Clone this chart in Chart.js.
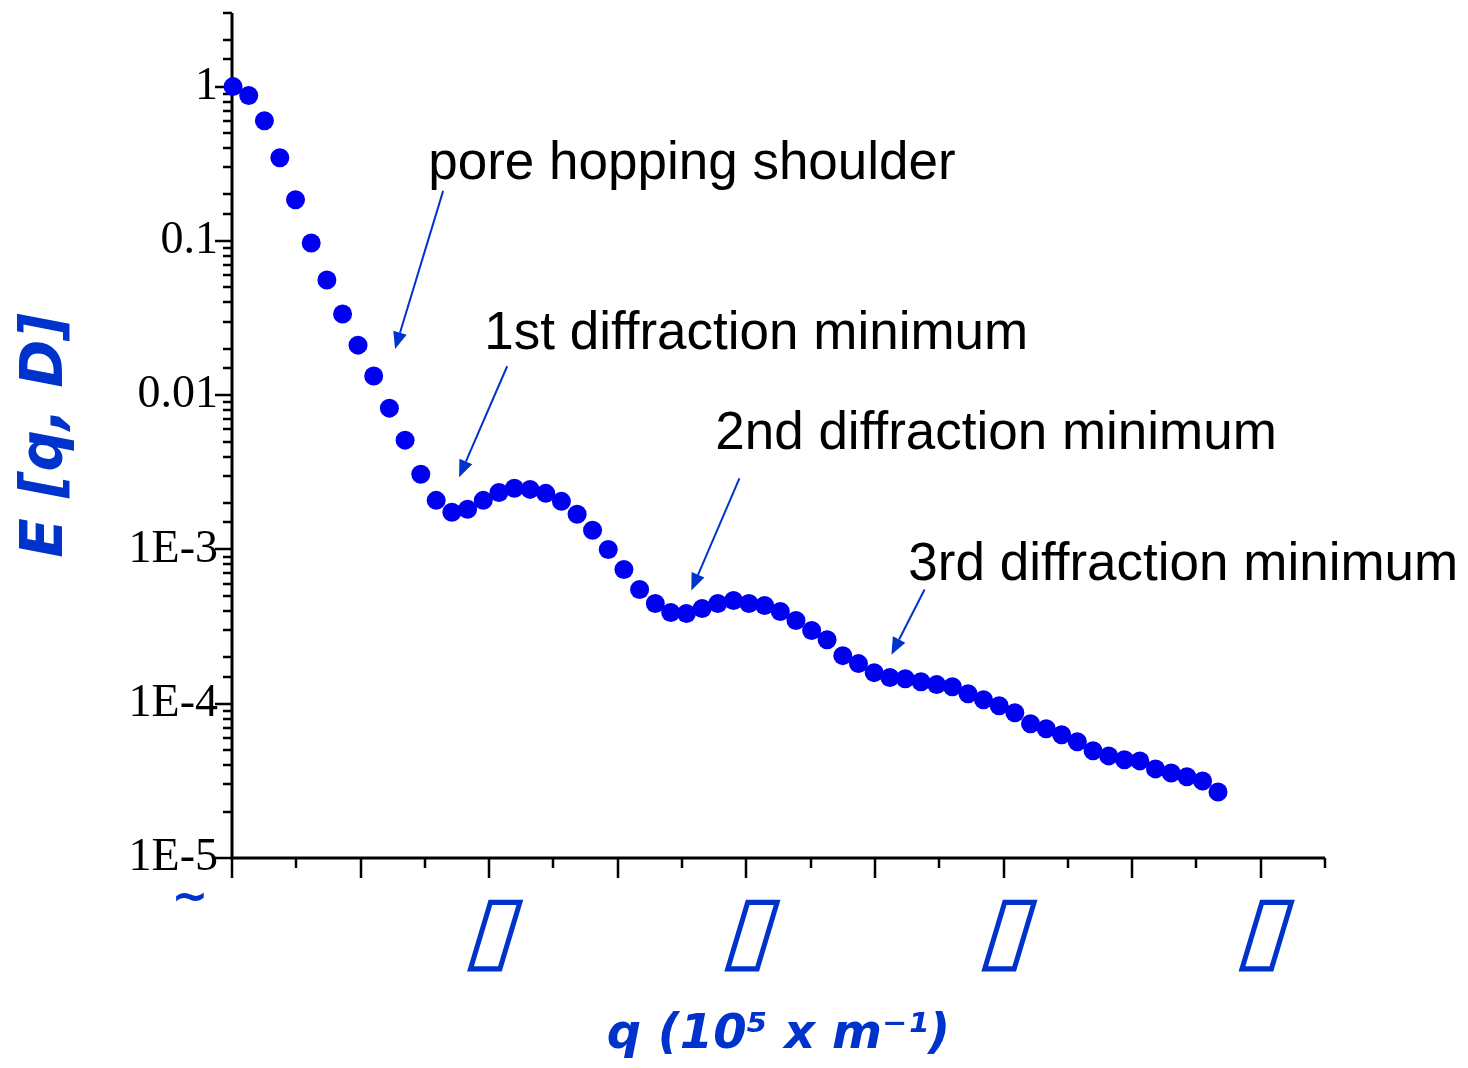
<!DOCTYPE html>
<html>
<head>
<meta charset="utf-8">
<script src="https://cdn.jsdelivr.net/npm/chart.js@4"></script>
<style>
  html, body { margin: 0; padding: 0; background: #fff; }
</style>
</head>
<body>
<canvas id="chart" width="1468" height="1068"></canvas>
<script>
// q (axis units) and E[q, D]
const qValues = [
  0.004, 0.065, 0.126, 0.186, 0.247, 0.308, 0.369, 0.430, 0.490, 0.551,
  0.612, 0.673, 0.734, 0.794, 0.855, 0.916, 0.977, 1.038, 1.098, 1.159,
  1.220, 1.281, 1.342, 1.402, 1.463, 1.524, 1.585, 1.646, 1.706, 1.767,
  1.828, 1.889, 1.950, 2.010, 2.071, 2.132, 2.193, 2.254, 2.314, 2.375,
  2.436, 2.497, 2.558, 2.618, 2.679, 2.740, 2.801, 2.862, 2.922, 2.983,
  3.044, 3.105, 3.166, 3.226, 3.287, 3.348, 3.409, 3.470, 3.530, 3.591,
  3.652, 3.713, 3.774, 3.834
];
const eValues = [
  1.0, 0.875, 0.601, 0.346, 0.185, 0.097, 0.0558, 0.0336, 0.0211, 0.0133,
  0.00824, 0.00511, 0.00307, 0.00208, 0.00174, 0.00182, 0.00208, 0.00234, 0.00249, 0.00245,
  0.00231, 0.00205, 0.00169, 0.00133, 0.00100, 0.000741, 0.000550, 0.000446, 0.000390, 0.000384,
  0.000414, 0.000446, 0.000467, 0.000446, 0.000433, 0.000396, 0.000346, 0.000298, 0.000260, 0.000205,
  0.000182, 0.000159, 0.000148, 0.000145, 0.000139, 0.000133, 0.000129, 0.000116, 0.000106, 0.0000970,
  0.0000874, 0.0000742, 0.0000688, 0.0000629, 0.0000567, 0.0000495, 0.0000459, 0.0000433, 0.0000426, 0.0000378,
  0.0000356, 0.0000336, 0.0000316, 0.0000268
];
const yTickLabels = ['1', '0.1', '0.01', '1E-3', '1E-4', '1E-5'];
const xTickLabel = '\u25AF'; // missing-glyph box, as in the source figure

// annotations: text anchor (left, baseline) and arrow tail -> tip, in data units
const notes = [
  { text: 'pore hopping shoulder',   at: [0.763, 0.253],    tail: [0.821, 0.211],   tip: [0.634, 0.0199] },
  { text: '1st diffraction minimum', at: [0.981, 0.0199],   tail: [1.070, 0.0154],  tip: [0.883, 0.00294] },
  { text: '2nd diffraction minimum', at: [1.879, 0.00446],  tail: [1.973, 0.00289], tip: [1.786, 0.000542] },
  { text: '3rd diffraction minimum', at: [2.630, 0.000638], tail: [2.693, 0.00055], tip: [2.564, 0.000208] }
];

const BLUE = '#0033cc';

function isPow10(v) {
  const l = Math.log10(v);
  return Math.abs(l - Math.round(l)) < 1e-6;
}

// axis lines, tick marks (outside) and the slanted box labels under the q axis
const axesPlugin = {
  id: 'axesLook',
  beforeDatasetsDraw(chart) {
    const { ctx, chartArea: a, scales: { x, y } } = chart;
    ctx.save();
    ctx.strokeStyle = '#000';
    ctx.lineWidth = 3;
    ctx.beginPath();
    ctx.moveTo(a.left, a.top);
    ctx.lineTo(a.left, a.bottom);
    ctx.lineTo(a.right, a.bottom);
    ctx.stroke();
    ctx.lineWidth = 2.5;
    ctx.beginPath();
    y.ticks.forEach(t => {
      const py = Math.round(y.getPixelForValue(t.value));
      const len = isPow10(t.value) ? 17 : 9;
      ctx.moveTo(a.left - len, py);
      ctx.lineTo(a.left, py);
    });
    x.ticks.forEach(t => {
      const px = Math.round(x.getPixelForValue(t.value));
      const len = Math.round(t.value * 4) % 2 === 0 ? 20 : 10;
      ctx.moveTo(px, a.bottom);
      ctx.lineTo(px, a.bottom + len);
    });
    ctx.stroke();

    ctx.fillStyle = BLUE;
    ctx.textAlign = 'center';
    ctx.textBaseline = 'middle';
    ctx.font = 'bold 94px "DejaVu Sans"';
    x.ticks.forEach(t => {
      if (!Number.isInteger(t.value) || t.value === 0) return;
      const px = x.getPixelForValue(t.value);
      ctx.save();
      ctx.translate(px + 6, a.bottom + 78);
      ctx.transform(1, 0, -0.3, 1, 0, 0);
      ctx.fillText(xTickLabel, 0, 0);
      ctx.restore();
    });
    // stray glyph near the origin
    ctx.font = 'bold 44px "DejaVu Sans"';
    ctx.fillText('~', a.left - 42, a.bottom + 42);
    ctx.restore();
  }
};

const notesPlugin = {
  id: 'notes',
  afterDatasetsDraw(chart) {
    const { ctx, scales: { x, y } } = chart;
    const P = p => [x.getPixelForValue(p[0]), y.getPixelForValue(p[1])];
    ctx.save();
    ctx.font = '53px "Liberation Sans"';
    ctx.textAlign = 'left';
    ctx.textBaseline = 'alphabetic';
    notes.forEach(n => {
      const [tx, ty] = P(n.at);
      ctx.fillStyle = '#000';
      ctx.fillText(n.text, tx, ty);
      const [x0, y0] = P(n.tail);
      const [x1, y1] = P(n.tip);
      const ang = Math.atan2(y1 - y0, x1 - x0);
      const hl = 17, hw = 7;
      const bx = x1 - hl * Math.cos(ang), by = y1 - hl * Math.sin(ang);
      ctx.strokeStyle = BLUE;
      ctx.fillStyle = BLUE;
      ctx.lineWidth = 2;
      ctx.beginPath();
      ctx.moveTo(x0, y0);
      ctx.lineTo(bx, by);
      ctx.stroke();
      ctx.beginPath();
      ctx.moveTo(x1, y1);
      ctx.lineTo(bx + hw * Math.sin(ang), by - hw * Math.cos(ang));
      ctx.lineTo(bx - hw * Math.sin(ang), by + hw * Math.cos(ang));
      ctx.closePath();
      ctx.fill();
    });
    ctx.restore();
  }
};

new Chart(document.getElementById('chart'), {
  type: 'scatter',
  data: {
    datasets: [{
      data: qValues.map((q, i) => ({ x: q, y: eValues[i] })),
      backgroundColor: '#0000f0',
      borderColor: '#0000f0',
      borderWidth: 0,
      pointRadius: 9.5,
      pointHoverRadius: 9.5,
      clip: false
    }]
  },
  options: {
    responsive: false,
    animation: false,
    devicePixelRatio: 1,
    layout: { autoPadding: false, padding: { top: 13, right: 143, left: 0, bottom: 0 } },
    plugins: { legend: { display: false }, tooltip: { enabled: false } },
    scales: {
      x: {
        type: 'linear',
        min: 0,
        max: 4.25,
        grid: { display: false },
        border: { display: false },
        ticks: {
          stepSize: 0.25,
          autoSkip: false,
          maxRotation: 0,
          callback: () => ''
        },
        title: {
          display: true,
          text: 'q (10\u2075 x m\u207B\u00B9)',
          color: BLUE,
          font: { family: 'DejaVu Sans', size: 48, weight: 'bold', style: 'italic' },
          padding: { top: 0, bottom: 4 }
        },
        afterFit: s => { s.height = 210; s.paddingLeft = 0; s.paddingRight = 0; }
      },
      y: {
        type: 'logarithmic',
        min: 1e-5,
        max: 3,
        grid: { display: false },
        border: { display: false },
        ticks: {
          autoSkip: false,
          padding: 6,
          color: '#000',
          font: { family: 'Liberation Serif', size: 46 },
          callback: v => (isPow10(v) ? yTickLabels[-Math.round(Math.log10(v))] : '')
        },
        title: {
          display: true,
          text: 'E [q, D]',
          color: BLUE,
          font: { family: 'DejaVu Sans', size: 58, weight: 'bold', style: 'italic' },
          padding: { top: 12, bottom: 0 }
        },
        afterFit: s => { s.width = 232; s.paddingTop = 0; s.paddingBottom = 0; }
      }
    }
  },
  plugins: [axesPlugin, notesPlugin]
});
</script>
</body>
</html>
